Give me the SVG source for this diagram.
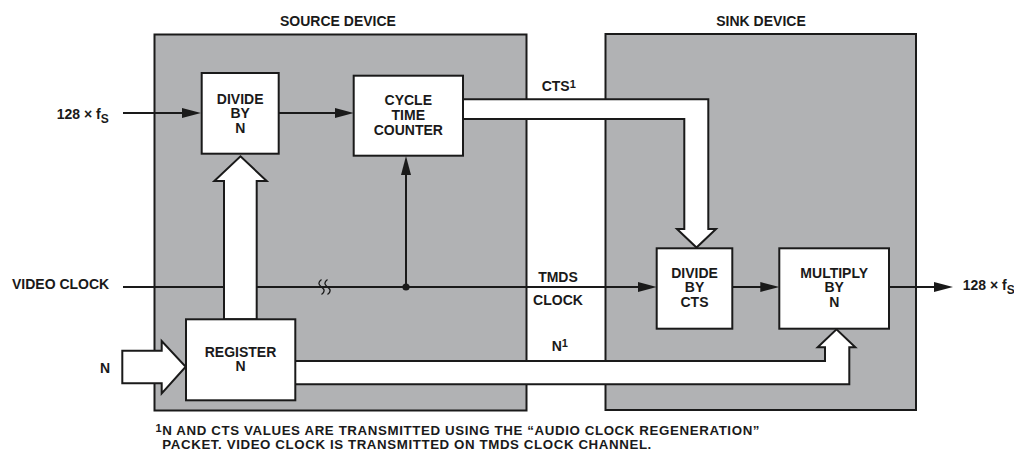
<svg xmlns="http://www.w3.org/2000/svg" width="1014" height="453" viewBox="0 0 1014 453">
<style>
text{font-family:"Liberation Sans",Arial,sans-serif;font-weight:bold;font-size:14px;fill:#1a1a1a}
.c{text-anchor:middle}
.fn{font-size:13.3px}
.dev{fill:#b1b2b4;stroke:#1a1a1a;stroke-width:2}
.box{fill:#fff;stroke:#1a1a1a;stroke-width:2}
.ln{fill:none;stroke:#1a1a1a;stroke-width:2}
.wide{fill:#fff;stroke:#1a1a1a;stroke-width:2;stroke-linejoin:miter}
.sup{font-size:11px}
.sub{font-size:12px}
</style>
<defs>
<marker id="ah" markerUnits="userSpaceOnUse" markerWidth="20" markerHeight="11" refX="11" refY="5" orient="auto">
<path d="M0,0 L19,5 L0,10 Z" fill="#1a1a1a"/>
</marker>
</defs>
<rect width="1014" height="453" fill="#fff"/>
<g id="source-device">
<rect class="dev" x="154.5" y="34.5" width="372" height="376"/>
<text class="c" x="338" y="25.5">SOURCE DEVICE</text>
</g>
<g id="sink-device">
<rect class="dev" x="605.5" y="34" width="310.5" height="376"/>
<text class="c" x="761" y="25.5">SINK DEVICE</text>
</g>
<g id="connectors">
<path class="ln" d="M123,113 H193" marker-end="url(#ah)"/>
<path class="ln" d="M279,113 H345.7" marker-end="url(#ah)"/>
<path class="ln" d="M406,287 V164" marker-end="url(#ah)"/>
<path class="ln" d="M123,287 H648.7" marker-end="url(#ah)"/>
<path class="ln" d="M732,287 H771.3" marker-end="url(#ah)"/>
<path class="ln" d="M889,287 H945" marker-end="url(#ah)"/>
<circle cx="406" cy="287" r="3.6" fill="#1a1a1a"/>
<path d="M321.5,279.5 c-3.5,2.5 -3.5,5 0,7.5 c3.5,2.5 3.5,5 0,7.5 M327.5,279.5 c-3.5,2.5 -3.5,5 0,7.5 c3.5,2.5 3.5,5 0,7.5" fill="none" stroke="#1a1a1a" stroke-width="1.3"/>
<path class="wide" d="M463,99.3 H708.3 V229 H716 L696.5,247.5 L677,229 H684.3 V119 H463 Z"/>
<path class="wide" d="M224,319.3 V181 H214.3 L240.5,156.3 L266.7,181 H256.7 V319.3 Z"/>
<path class="wide" d="M122.3,350.7 H161.7 V341 L185.7,366.7 L161.7,393.3 V383.3 H122.3 Z"/>
<path class="wide" d="M295,361 H825 V347.3 H817.7 L836.5,329.3 L855.3,347.3 H849.3 V384.3 H295 Z"/>
</g>
<g id="divide-by-n">
<rect class="box" x="201.7" y="73" width="77" height="80.7"/>
<text class="c" x="240.2" y="103.5">DIVIDE</text>
<text class="c" x="240.2" y="118.3">BY</text>
<text class="c" x="240.2" y="132.8">N</text>
</g>
<g id="cycle-time-counter">
<rect class="box" x="353.7" y="75.7" width="109.3" height="80"/>
<text class="c" x="408.3" y="105">CYCLE</text>
<text class="c" x="408.3" y="119.8">TIME</text>
<text class="c" x="408.3" y="134.5">COUNTER</text>
</g>
<g id="register-n">
<rect class="box" x="186" y="319.3" width="109.3" height="81"/>
<text class="c" x="240.5" y="356.5">REGISTER</text>
<text class="c" x="240.5" y="371">N</text>
</g>
<g id="divide-by-cts">
<rect class="box" x="656.7" y="248.3" width="75.6" height="80.4"/>
<text class="c" x="694.5" y="277.8">DIVIDE</text>
<text class="c" x="694.5" y="292.4">BY</text>
<text class="c" x="694.5" y="307">CTS</text>
</g>
<g id="multiply-by-n">
<rect class="box" x="779.3" y="248.3" width="109.7" height="80.4"/>
<text class="c" x="834.2" y="277.8">MULTIPLY</text>
<text class="c" x="834.2" y="292.4">BY</text>
<text class="c" x="834.2" y="307">N</text>
</g>
<g id="labels">
<text x="56.7" y="118.5">128 × f<tspan class="sub" dy="4">S</tspan></text>
<text x="962.7" y="290">128 × f<tspan class="sub" dy="4">S</tspan></text>
<text x="12" y="289">VIDEO CLOCK</text>
<text x="100" y="372.7">N</text>
<text x="541.7" y="91">CTS<tspan class="sup" dy="-3.5">1</tspan></text>
<text class="c" x="558" y="282">TMDS</text>
<text class="c" x="558" y="305.3">CLOCK</text>
<text x="551.7" y="350.7">N<tspan class="sup" dy="-3.5">1</tspan></text>
<text class="fn" x="155.5" y="435.2" textLength="604" lengthAdjust="spacing"><tspan class="sup" dy="-3.5">1</tspan><tspan dy="3.5">N AND CTS VALUES ARE TRANSMITTED USING THE “AUDIO CLOCK REGENERATION”</tspan></text>
<text class="fn" x="162.3" y="449" textLength="489" lengthAdjust="spacing">PACKET. VIDEO CLOCK IS TRANSMITTED ON TMDS CLOCK CHANNEL.</text>
</g>
</svg>
